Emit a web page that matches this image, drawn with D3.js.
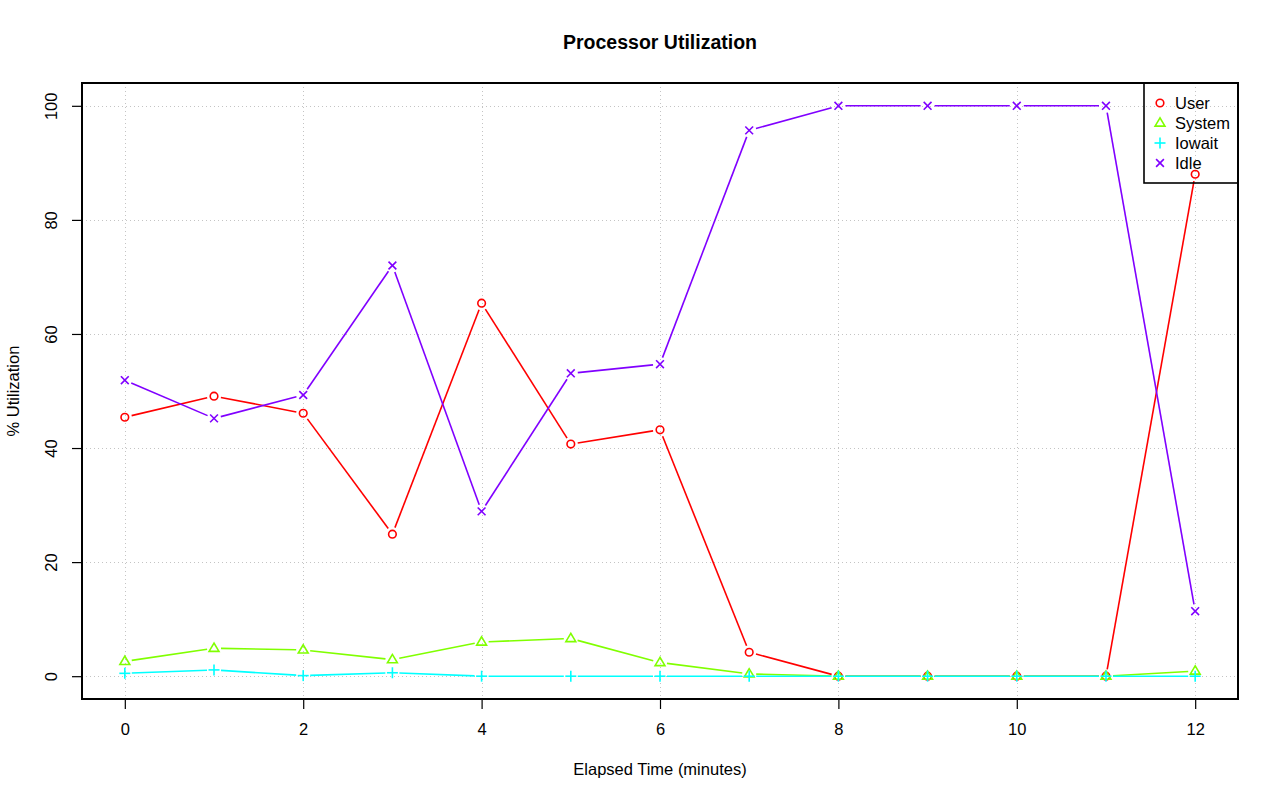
<!DOCTYPE html>
<html>
<head>
<meta charset="utf-8">
<script src="https://cdn.jsdelivr.net/npm/d3@7"></script>
<style>
  html, body { margin: 0; padding: 0; background: #fff; }
  svg { display: block; font-family: "Liberation Sans", Arial, Helvetica, sans-serif; }
</style>
</head>
<body>
<svg id="chart" width="1280" height="801"></svg>
<script>
const minutes = [0, 1, 2, 3, 4, 5, 6, 7, 8, 9, 10, 11, 12];
const userVals   = [45.4, 49.1, 46.1, 24.9, 65.4, 40.7, 43.2, 4.2, 0, 0, 0, 0, 88.0];
const systemVals = [2.6, 4.9, 4.6, 2.9, 6.0, 6.6, 2.4, 0.4, 0, 0, 0, 0, 0.9];
const iowaitVals = [0.5, 1.1, 0.1, 0.6, 0, 0, 0, 0, 0, 0, 0, 0, 0];
const idleVals   = [51.9, 45.2, 49.3, 72.0, 28.9, 53.1, 54.7, 95.7, 100, 100, 100, 100, 11.4];
const seriesNames = ["User", "System", "Iowait", "Idle"];
const seriesColors = ["#FF0000", "#80FF00", "#00FFFF", "#8000FF"];
const seriesShapes = ["circle", "triangle", "plus", "cross"];
const xTicks = [0, 2, 4, 6, 8, 10, 12];
const yTicks = [0, 20, 40, 60, 80, 100];

const seriesValues = [userVals, systemVals, iowaitVals, idleVals];

const svg = d3.select("#chart");
const L = 82, R = 1238, T = 83, B = 699;
const FS = 16.5;

const x = d3.scaleLinear().domain([-0.48, 12.48]).range([L, R]);
const y = d3.scaleLinear().domain([-4, 104]).range([B, T]);

// grid
const grid = svg.append("g").attr("stroke", "#C4C4C4").attr("stroke-width", 1).attr("stroke-dasharray", "1,3");
grid.selectAll("line.v").data(xTicks).enter().append("line")
  .attr("x1", d => Math.round(x(d)) + 0.5).attr("x2", d => Math.round(x(d)) + 0.5)
  .attr("y1", T).attr("y2", B);
grid.selectAll("line.h").data(yTicks).enter().append("line")
  .attr("y1", d => Math.round(y(d)) + 0.5).attr("y2", d => Math.round(y(d)) + 0.5)
  .attr("x1", L).attr("x2", R);

// axes
const xAxis = d3.axisBottom(x).tickValues(xTicks).tickSize(10).tickPadding(14).tickFormat(d3.format("d"));
const gx = svg.append("g").attr("transform", `translate(0,${B})`).call(xAxis);
gx.select(".domain").remove();
gx.selectAll(".tick line").attr("stroke", "#000").attr("stroke-width", 1.2);
gx.selectAll(".tick text").attr("font-size", FS).attr("fill", "#000")
  .attr("font-family", "Liberation Sans, Arial, sans-serif");

const yAxis = d3.axisLeft(y).tickValues(yTicks).tickSize(10).tickFormat(d3.format("d"));
const gy = svg.append("g").attr("transform", `translate(${L},0)`).call(yAxis);
gy.select(".domain").remove();
gy.selectAll(".tick line").attr("stroke", "#000").attr("stroke-width", 1.2);
gy.selectAll(".tick text").attr("font-size", FS).attr("fill", "#000")
  .attr("font-family", "Liberation Sans, Arial, sans-serif")
  .attr("x", null).attr("dy", null)
  .attr("text-anchor", "middle")
  .attr("transform", "translate(-25,0) rotate(-90)")
  .attr("y", 0);

// series lines with gaps (type = "b")
const gap = 7;
seriesValues.forEach((vals, si) => {
  const g = svg.append("g");
  const pts = minutes.map((m, i) => [x(m), y(vals[i])]);
  for (let i = 0; i < pts.length - 1; i++) {
    const [x1, y1] = pts[i], [x2, y2] = pts[i + 1];
    const dx = x2 - x1, dy = y2 - y1;
    const len = Math.hypot(dx, dy);
    if (len <= 2 * gap) continue;
    const ux = dx / len, uy = dy / len;
    g.append("line")
      .attr("x1", x1 + ux * gap).attr("y1", y1 + uy * gap)
      .attr("x2", x2 - ux * gap).attr("y2", y2 - uy * gap)
      .attr("stroke", seriesColors[si]).attr("stroke-width", 1.6);
  }
  pts.forEach(p => drawSymbol(g, seriesShapes[si], p[0], p[1], seriesColors[si]));
});

function drawSymbol(g, shape, cx, cy, color) {
  const sw = 1.6;
  if (shape === "circle") {
    g.append("circle").attr("cx", cx).attr("cy", cy).attr("r", 3.8)
      .attr("fill", "none").attr("stroke", color).attr("stroke-width", sw);
  } else if (shape === "triangle") {
    const r = 5.2;
    const pts = [[cx, cy - r], [cx - r * 0.95, cy + r * 0.6], [cx + r * 0.95, cy + r * 0.6]];
    g.append("polygon").attr("points", pts.map(p => p.join(",")).join(" "))
      .attr("fill", "none").attr("stroke", color).attr("stroke-width", sw);
  } else if (shape === "plus") {
    const r = 5.5;
    g.append("line").attr("x1", cx - r).attr("x2", cx + r).attr("y1", cy).attr("y2", cy)
      .attr("stroke", color).attr("stroke-width", sw);
    g.append("line").attr("x1", cx).attr("x2", cx).attr("y1", cy - r).attr("y2", cy + r)
      .attr("stroke", color).attr("stroke-width", sw);
  } else if (shape === "cross") {
    const r = 3.9;
    g.append("line").attr("x1", cx - r).attr("x2", cx + r).attr("y1", cy - r).attr("y2", cy + r)
      .attr("stroke", color).attr("stroke-width", sw);
    g.append("line").attr("x1", cx - r).attr("x2", cx + r).attr("y1", cy + r).attr("y2", cy - r)
      .attr("stroke", color).attr("stroke-width", sw);
  }
}

// plot box
svg.append("rect").attr("x", L).attr("y", T).attr("width", R - L).attr("height", B - T)
  .attr("fill", "none").attr("stroke", "#000").attr("stroke-width", 2);

// legend
const lg = svg.append("g");
const lgL = 1144, lgT = T, lgR = R, lgB = 183;
lg.append("rect").attr("x", lgL).attr("y", lgT).attr("width", lgR - lgL).attr("height", lgB - lgT)
  .attr("fill", "none").attr("stroke", "#000").attr("stroke-width", 1.6);
seriesNames.forEach((name, i) => {
  const cy = 103 + i * 20;
  drawSymbol(lg, seriesShapes[i], 1160, cy, seriesColors[i]);
  lg.append("text").attr("x", 1175).attr("y", cy).attr("dy", "0.36em")
    .attr("font-size", FS).attr("fill", "#000").text(name);
});

// titles
svg.append("text").attr("x", (L + R) / 2).attr("y", 48.5).attr("text-anchor", "middle")
  .attr("font-size", 19.5).attr("font-weight", "bold").text("Processor Utilization");
svg.append("text").attr("x", (L + R) / 2).attr("y", 775).attr("text-anchor", "middle")
  .attr("font-size", FS).text("Elapsed Time (minutes)");
svg.append("text").attr("transform", `translate(18.5,${(T + B) / 2}) rotate(-90)`)
  .attr("text-anchor", "middle").attr("font-size", FS).text("% Utilization");
</script>
</body>
</html>
